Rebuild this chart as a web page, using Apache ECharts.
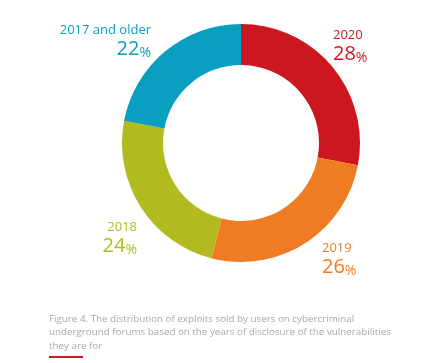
<!DOCTYPE html>
<html>
<head>
<meta charset="utf-8">
<script src="https://cdn.jsdelivr.net/npm/echarts@6/dist/echarts.min.js"></script>
<style>
html,body{margin:0;padding:0;background:#fff;}
#chart{width:423px;height:363px;}
</style>
</head>
<body>
<div id="chart"></div>
<script>
const categories = ['2020', '2019', '2018', '2017 and older'];
const values = [28, 26, 24, 22];
const sliceColors = ['#cd1720', '#ef7b22', '#b1ba1e', '#0a9fc1'];
const labelColors = ['#d3202b', '#ee8634', '#b3bd28', '#18a2c0'];
const captionLines = [
  'Figure 4. The distribution of exploits sold by users on cybercriminal',
  'underground forums based on the years of disclosure of the vulnerabilities',
  'they are for'
];

// label anchor positions (layout only)
const labelPos = [
  {x: 333, y: 28, align: 'left'},
  {x: 322, y: 241, align: 'left'},
  {x: 137, y: 220, align: 'right'},
  {x: 151, y: 23, align: 'right'}
];

const chart = echarts.init(document.getElementById('chart'), null, {renderer: 'canvas'});
const font = '"Open Sans", "Noto Sans", sans-serif';

chart.setOption({
  animation: false,
  series: [{
    type: 'pie',
    center: [241, 143],
    radius: [78, 119],
    startAngle: 90,
    clockwise: true,
    silent: true,
    data: categories.map((c, i) => ({
      name: c,
      value: values[i],
      itemStyle: {color: sliceColors[i]},
      label: {color: labelColors[i]}
    })),
    label: {
      show: true,
      position: 'outside',
      overflow: 'none',
      alignTo: 'none',
      formatter: p => '{y|' + p.name + '}\n{n|' + p.value + '}{p|%}',
      fontFamily: font,
      rich: {
        y: {fontSize: 13, fontFamily: font, lineHeight: 15, color: 'inherit'},
        n: {fontSize: 20, fontFamily: font, lineHeight: 22, color: 'inherit'},
        p: {fontSize: 14, fontFamily: font, lineHeight: 22, color: 'inherit', verticalAlign: 'bottom'}
      }
    },
    labelLine: {show: false},
    labelLayout: params => {
      const lp = labelPos[params.dataIndex];
      return {x: lp.x, y: lp.y, align: lp.align, verticalAlign: 'top', hideOverlap: false};
    }
  }],
  graphic: [
    ...captionLines.map((t, i) => ({
      type: 'text',
      left: 49,
      top: 314 + i * 13.5,
      style: {text: t, fill: '#a8a8a8', font: '9.8px ' + font}
    })),
    {
      type: 'rect',
      left: 49,
      top: 356,
      shape: {width: 34, height: 2},
      style: {fill: '#d7141f'}
    }
  ]
});
</script>
</body>
</html>
